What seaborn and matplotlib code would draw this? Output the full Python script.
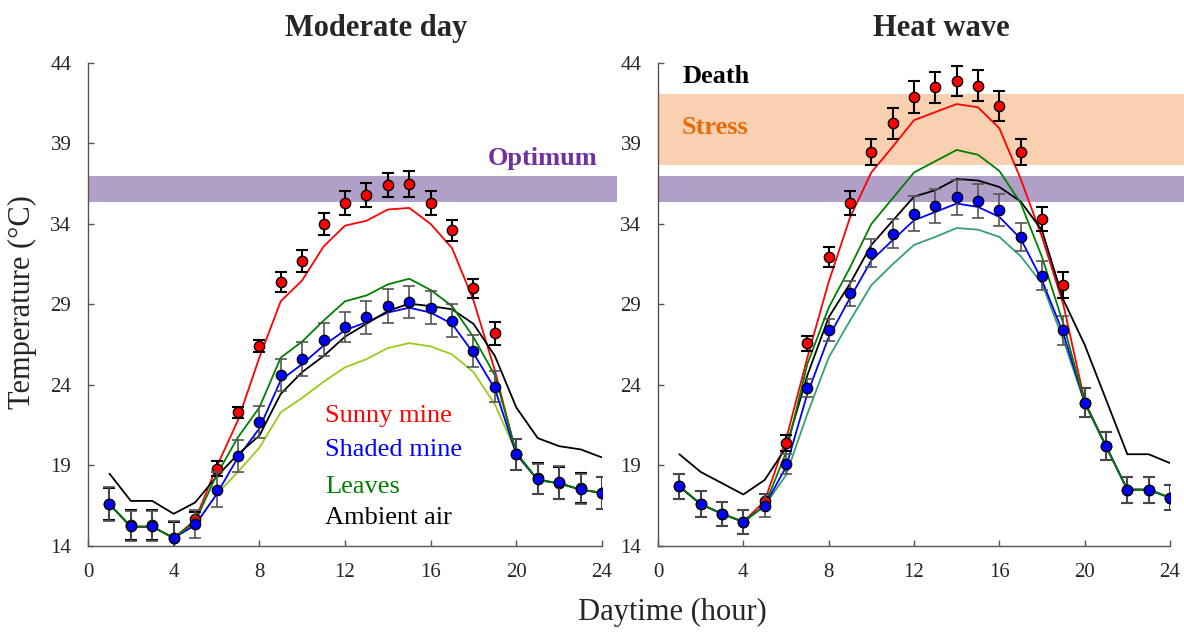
import matplotlib
matplotlib.use("Agg")
import matplotlib.pyplot as plt
import seaborn as sns

sns.set_style("ticks")
plt.rcParams["font.family"] = ["Liberation Serif", "DejaVu Serif"]

# hours of the day
hours = list(range(1, 25))

# Moderate day: observed mine temperatures (mean, error)
md_sunny_obs = [16.6, 15.3, 15.3, 14.5, 15.7, 18.8, 22.3, 26.4, 30.4, 31.7, 34.0, 35.3,
                35.8, 36.4, 36.5, 35.3, 33.6, 30.0, 27.2, 19.7, 18.2, 17.9, 17.6, 17.3]
md_sunny_err = [1.0, 0.95, 0.95, 1.0, 0.4, 0.45, 0.36, 0.37, 0.64, 0.7, 0.7, 0.77,
                0.77, 0.75, 0.82, 0.77, 0.64, 0.6, 0.7, 0.96, 0.95, 1.0, 0.95, 0.98]
md_shaded_obs = [16.6, 15.25, 15.25, 14.5, 15.35, 17.5, 19.6, 21.7, 24.6, 25.6, 26.8, 27.6,
                 28.2, 28.9, 29.15, 28.8, 28.0, 26.1, 23.9, 19.7, 18.15, 17.95, 17.55, 17.3]
md_shaded_err = [1.04, 0.95, 0.95, 1.04, 0.88, 1.09, 0.98, 0.98, 1.0, 1.07, 1.02, 0.96,
                 1.02, 1.06, 0.97, 1.04, 1.0, 0.98, 0.98, 0.96, 0.95, 1.0, 0.95, 0.98]

# Moderate day: model curves
md_sunny_model = [16.6, 15.2, 15.2, 14.5, 15.6, 18.9, 21.8, 25.7, 29.2, 30.5, 32.6, 33.9,
                  34.2, 34.9, 35.0, 34.0, 32.5, 29.25, 24.9, 19.7, 18.1, 17.9, 17.5, 17.3]
md_shaded_model = [16.6, 15.2, 15.2, 14.5, 15.3, 17.2, 19.5, 21.3, 24.3, 25.3, 26.45, 27.4,
                   27.9, 28.5, 28.8, 28.5, 27.8, 25.97, 23.76, 19.7, 18.1, 17.9, 17.5, 17.3]
md_leaves = [16.6, 15.2, 15.2, 14.5, 15.5, 18.4, 20.75, 22.6, 25.7, 26.7, 28.0, 29.2,
             29.56, 30.25, 30.6, 29.9, 28.9, 26.97, 24.6, 19.8, 18.1, 17.9, 17.5, 17.3]
md_leaves_shade = [16.6, 15.2, 15.2, 14.5, 15.3, 17.2, 18.6, 20.1, 22.3, 23.2, 24.2, 25.1,
                   25.6, 26.3, 26.6, 26.4, 25.9, 24.8, 22.8, 19.8, 18.1, 17.9, 17.5, 17.3]
md_air = [18.5, 16.8, 16.8, 16.0, 16.7, 18.3, 19.7, 20.85, 23.45, 24.8, 25.8, 27.0,
          27.8, 28.6, 29.05, 28.9, 28.7, 27.8, 25.8, 22.6, 20.7, 20.2, 20.0, 19.5]

# Heat wave: observed mine temperatures (mean, error)
hw_sunny_obs = [17.7, 16.6, 16.0, 15.5, 16.8, 20.4, 26.6, 31.95, 35.3, 38.5, 40.25, 41.9,
                42.5, 42.9, 42.6, 41.3, 38.5, 34.3, 30.2, 22.9, 20.2, 17.5, 17.5, 17.0]
hw_sunny_err = [0.78, 0.81, 0.73, 0.73, 0.4, 0.5, 0.47, 0.64, 0.76, 0.81, 0.95, 0.99,
                0.96, 0.93, 0.99, 0.93, 0.81, 0.76, 0.8, 0.9, 0.86, 0.81, 0.81, 0.76]
hw_shaded_obs = [17.7, 16.6, 16.0, 15.5, 16.5, 19.1, 23.8, 27.4, 29.7, 32.2, 33.4, 34.65,
                 35.1, 35.65, 35.45, 34.85, 33.2, 30.8, 27.4, 22.9, 20.2, 17.5, 17.5, 17.0]
hw_shaded_err = [0.78, 0.81, 0.73, 0.73, 0.7, 0.64, 0.57, 0.67, 0.78, 0.87, 0.91, 1.09,
                 1.06, 1.08, 1.06, 0.99, 0.85, 0.88, 0.91, 0.9, 0.86, 0.81, 0.81, 0.76]

# Heat wave: model curves
hw_sunny_model = [17.7, 16.6, 16.0, 15.5, 16.8, 20.6, 25.7, 30.4, 34.4, 37.2, 38.8, 40.45,
                  40.95, 41.45, 41.25, 39.95, 36.8, 33.2, 29.0, 23.0, 20.2, 17.5, 17.5, 17.0]
hw_shaded_model = [17.7, 16.6, 16.0, 15.5, 16.5, 18.9, 23.45, 26.97, 29.4, 31.74, 33.0, 34.23,
                   34.75, 35.27, 35.06, 34.44, 33.09, 30.5, 27.2, 22.9, 20.2, 17.5, 17.5, 17.0]
hw_leaves = [17.7, 16.6, 16.0, 15.5, 16.5, 19.8, 25.3, 28.8, 31.3, 34.0, 35.6, 37.2,
             37.9, 38.6, 38.3, 37.3, 35.3, 31.95, 27.8, 22.9, 20.2, 17.5, 17.5, 17.0]
hw_leaves_shade = [17.7, 16.6, 16.0, 15.5, 16.5, 18.4, 22.2, 25.7, 28.0, 30.2, 31.5, 32.7,
                   33.2, 33.75, 33.65, 33.2, 32.0, 30.3, 26.8, 22.9, 20.2, 17.5, 17.5, 17.0]
hw_air = [19.7, 18.6, 17.9, 17.2, 18.1, 20.1, 24.6, 28.2, 30.3, 32.7, 34.2, 35.7,
          36.1, 36.8, 36.7, 36.3, 35.4, 33.6, 29.3, 26.5, 23.1, 19.7, 19.7, 19.15]

# thermal zones
optimum_band = (35.37, 36.97)
stress_band = (37.65, 42.06)

legend_labels = ["Sunny mine", "Shaded mine", "Leaves", "Ambient air"]
legend_colors = ["#ff0000", "#0000ff", "#008000", "#000000"]

W, H = 1184, 634
fig = plt.figure(figsize=(W / 100, H / 100), dpi=100)
ax1 = fig.add_axes([88 / W, 1 - 546 / H, 514 / W, 483 / H])
ax2 = fig.add_axes([658 / W, 1 - 546 / H, 512 / W, 483 / H])


def draw_panel(ax, curves, sunny_obs, sunny_err, shaded_obs, shaded_err):
    for vals, col in curves:
        sns.lineplot(x=hours, y=vals, color=col, lw=1.3, ax=ax, zorder=3)
    # observations: sunny (red) then shaded (blue) on top
    ax.errorbar(hours, sunny_obs, yerr=sunny_err, fmt="none", ecolor="black",
                elinewidth=1.5, capsize=4.5, capthick=1.5, zorder=4)
    sns.scatterplot(x=hours, y=sunny_obs, color="red", edgecolor="black", s=55,
                    linewidth=1, ax=ax, zorder=5)
    ax.errorbar(hours, shaded_obs, yerr=shaded_err, fmt="none", ecolor="#555555",
                elinewidth=1.2, capsize=4.5, capthick=1.2, zorder=6)
    sns.scatterplot(x=hours, y=shaded_obs, color="blue", edgecolor="black", s=55,
                    linewidth=1, ax=ax, zorder=7)

    ax.axhspan(*optimum_band, xmin=0, xmax=24.7 / 24, color="#b0a0c8", lw=0,
               clip_on=False, zorder=1)
    ax.set_xlim(0, 24)
    ax.set_ylim(14, 44)
    ax.set_xticks(range(0, 25, 4))
    ax.set_yticks(range(14, 45, 5))
    ax.set_xlabel("")
    ax.set_ylabel("")
    ax.tick_params(direction="in", length=4.5, width=1, color="#555555",
                   labelsize=15, pad=12)
    sns.despine(ax=ax)
    for s in ["left", "bottom"]:
        ax.spines[s].set_color("#555555")
        ax.spines[s].set_linewidth(1)


draw_panel(ax1,
           [(md_leaves_shade, "#99cc1a"), (md_sunny_model, "#ff0000"),
            (md_shaded_model, "#0000ff"), (md_air, "#000000"), (md_leaves, "#008000")],
           md_sunny_obs, md_sunny_err, md_shaded_obs, md_shaded_err)
draw_panel(ax2,
           [(hw_leaves_shade, "#35a070"), (hw_sunny_model, "#ff0000"),
            (hw_shaded_model, "#0000ff"), (hw_air, "#000000"), (hw_leaves, "#008000")],
           hw_sunny_obs, hw_sunny_err, hw_shaded_obs, hw_shaded_err)

ax2.axhspan(*stress_band, xmin=0, xmax=24.7 / 24, color="#f9d0b0", lw=0,
            clip_on=False, zorder=1)

# annotations
ax1.text(23.8, 37.65, "Optimum", ha="right", va="baseline", fontsize=19,
         fontweight="bold", color="#7030a0")
ax2.text(1.13, 42.76, "Death", ha="left", va="baseline", fontsize=19,
         fontweight="bold", color="black")
ax2.text(1.13, 39.57, "Stress", ha="left", va="baseline", fontsize=19,
         fontweight="bold", color="#e46c0a")

for lab, col, yy in zip(legend_labels, legend_colors, [21.72, 19.6, 17.3, 15.35]):
    ax1.text(11.06, yy, lab, color=col, fontsize=19, va="baseline", ha="left")

fig.text(376 / W, 1 - 36 / H, "Moderate day", ha="center", va="baseline",
         fontsize=22, fontweight="bold")
fig.text(941 / W, 1 - 36 / H, "Heat wave", ha="center", va="baseline",
         fontsize=22, fontweight="bold")
fig.text(22 / W, 1 - 302 / H, "Temperature (°C)", rotation=90, ha="center",
         va="center", fontsize=22)
fig.text(672 / W, 1 - 620 / H, "Daytime (hour)", ha="center", va="baseline",
         fontsize=22)

fig.savefig("out.png", dpi=100)
